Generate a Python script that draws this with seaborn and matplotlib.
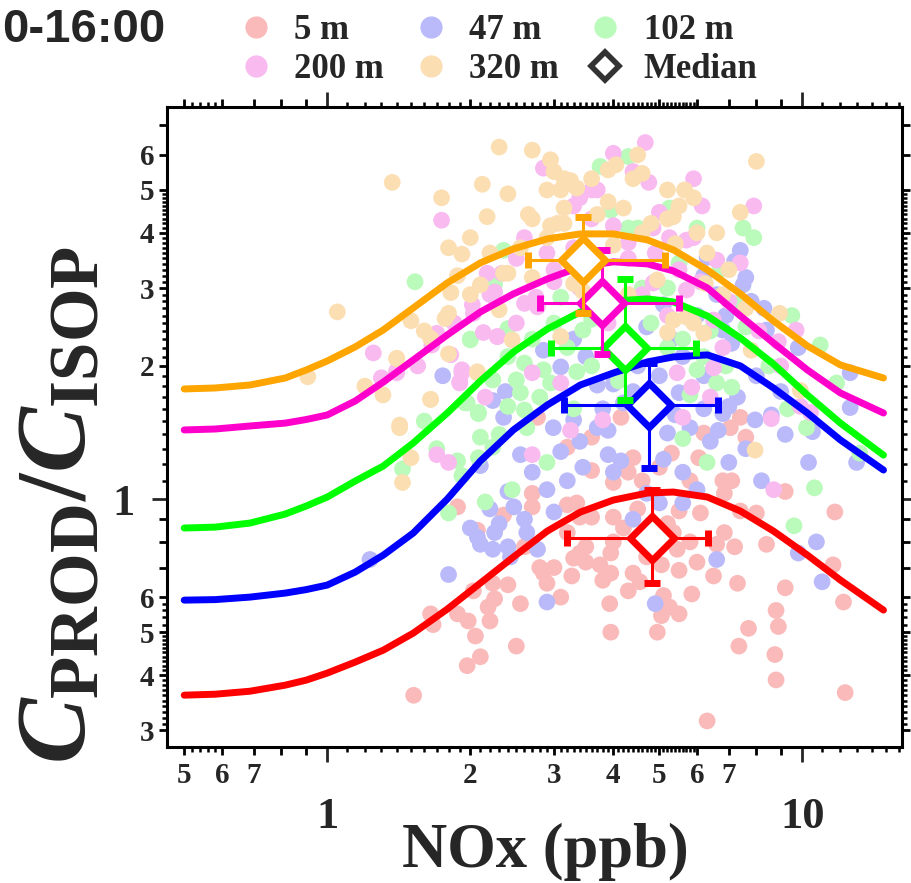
import numpy as np
import pandas as pd
import matplotlib
matplotlib.use("Agg")
import matplotlib.pyplot as plt
import seaborn as sns
from matplotlib.lines import Line2D
from matplotlib.ticker import FixedLocator, FixedFormatter, NullFormatter

# ---------------- data ----------------
heights = ["5 m", "47 m", "102 m", "200 m", "320 m"]
pale_colors = ["#FABABA", "#BABAFA", "#BAFABA", "#F9BAF0", "#FCDEB3"]
line_colors = ["#FF0000", "#0000FF", "#00FF00", "#FF00CC", "#FFA500"]

x_5m = [1.52, 1.97, 2.1, 2.05, 2.5, 1.65, 1.67, 1.88, 1.98, 2.2, 2.18, 2.25, 2.55, 2.03, 2.23, 2.85, 2.8, 2.9,
        3.0, 3.27, 3.3, 3.4, 3.5, 3.75, 3.8, 3.95, 3.95, 3.93, 3.95, 4.4, 4.55, 4.0, 3.5,
        5.05, 5.5, 5.85, 5.1, 5.25, 5.05, 5.5, 4.95, 6.5, 7.3, 9.2, 8.8, 7.7, 8.9, 7.35, 8.75, 8.8, 12.3,
        6.3, 12.2, 11.6, 8.4, 7.2, 6.6, 5.45,
        7.4, 7.05, 7.6, 6.2, 6.05, 5.3, 5.0, 4.6, 5.8, 6.8, 7.1, 6.85, 7.4, 8.0, 6.1, 5.5, 6.85, 9.2, 11.7, 5.35,
        2.7, 2.7, 2.35, 2.07, 3.2, 3.35, 3.4, 3.6, 4.0, 3.6, 4.0, 4.3, 4.4, 1.88, 3.6, 2.77, 3.2, 4.15,
        4.2, 4.5, 5.2, 5.8, 4.7, 3.2, 2.6, 6.0, 4.3, 3.1, 2.4]
y_5m = [0.36, 0.42, 0.44, 0.49, 0.465, 0.55, 0.52, 0.55, 0.53, 0.53, 0.57, 0.595, 0.58, 0.62, 0.645, 0.68, 0.70, 0.645,
        0.70, 0.67, 0.735, 0.755, 0.72, 0.71, 0.655, 0.68, 0.755, 0.58, 0.50, 0.68, 0.65, 0.80, 0.78,
        0.71, 0.69, 0.61, 0.605, 0.57, 0.545, 0.55, 0.50, 0.67, 0.645, 0.63, 0.56, 0.51, 0.515, 0.465, 0.445, 0.39, 0.365,
        0.315, 0.585, 0.71, 0.79, 0.78, 0.79, 0.77,
        1.53, 1.45, 1.38, 1.41, 1.24, 1.27, 1.18, 1.10, 1.10, 1.10, 1.10, 1.03, 0.94, 0.93, 0.93, 0.94, 0.84, 1.04, 0.935, 0.84,
        1.03, 0.96, 0.92, 0.85, 0.97, 0.98, 0.91, 0.91, 0.91, 1.16, 1.09, 1.15, 1.24, 0.96, 1.38, 1.53, 1.31, 1.53,
        0.86, 0.95, 0.88, 0.80, 0.74, 0.84, 0.78, 0.72, 0.62, 0.60, 0.64]

x_47m = [1.23, 1.8, 2.9, 4.9, 6.6, 11.0, 9.8, 10.7,
         1.75, 2.23, 2.37, 2.35, 2.55, 3.1, 2.1, 2.4, 2.47, 2.25, 2.07, 2.63, 2.77, 3.0, 2.85, 3.1, 2.99, 3.3,
         3.7, 3.9, 3.45, 3.9, 4.15, 4.0, 3.7, 4.0,
         7.5, 6.8, 4.7, 5.5, 5.8, 7.3, 7.0, 6.8, 5.8, 6.65, 7.95, 5.2, 5.1, 5.6, 7.0, 10.5, 10.3, 13.0, 12.6, 12.6,
         9.8, 8.4, 5.0, 4.7, 7.4, 7.6, 6.3, 7.2, 2.1, 2.23, 2.4, 2.43,
         4.5, 5.3, 6.0, 3.3, 4.2, 6.2, 5.6, 8.0, 9.0, 7.8, 6.6, 3.5,
         2.0, 2.3, 2.6, 2.2, 2.9, 3.2, 2.7, 3.4, 3.8, 4.4, 4.1, 5.0, 5.4, 6.2, 6.4, 7.6, 8.6, 9.2, 8.2, 6.0,
         5.6, 4.4, 6.9, 7.1, 8.3, 5.1, 4.9, 6.2]
y_47m = [0.73, 0.675, 0.585, 0.58, 0.73, 0.65, 0.755, 0.80,
         1.90, 1.67, 1.75, 1.53, 1.26, 1.28, 1.19, 1.04, 0.96, 0.84, 0.82, 0.84, 0.77, 0.935, 2.17, 1.99, 1.45, 1.51,
         1.45, 1.43, 1.18, 1.26, 1.22, 1.15, 1.81, 1.82,
         3.05, 2.41, 2.45, 1.74, 1.76, 1.70, 1.62, 1.56, 1.45, 1.43, 1.51, 1.41, 1.23, 1.15, 1.21, 1.42, 1.21, 1.21, 1.93, 1.61,
         2.2, 2.41, 0.98, 1.03, 3.65, 3.17, 3.52, 3.45, 0.79, 0.77, 0.78, 0.74,
         2.0, 2.3, 2.6, 2.3, 1.65, 1.9, 2.1, 1.9, 1.75, 2.8, 2.9, 2.1,
         0.86, 0.88, 0.90, 0.95, 1.05, 1.1, 1.15, 1.35, 1.6, 1.75, 2.1, 1.9, 1.55, 1.6, 1.35, 1.3, 1.55, 1.4, 1.1, 1.05,
         0.98, 0.9, 2.6, 2.25, 2.7, 2.75, 3.1, 3.2]

x_102m = [1.53, 2.35, 2.25, 2.0, 2.4, 1.97, 2.08, 2.23,
          2.0, 2.23, 2.5, 2.55, 2.4, 2.6, 1.95, 2.08, 2.1, 2.23, 2.08, 1.92, 1.88, 1.44, 2.15, 1.8, 2.9, 2.63, 2.95, 2.85,
          3.35, 2.6,
          6.0, 6.6, 7.1, 5.8, 5.6, 6.3, 10.6, 9.6, 10.9, 11.8, 13.2, 7.2,
          4.3, 3.75, 5.25, 6.0, 7.5, 7.9, 4.3, 4.5, 3.45, 3.1, 5.5, 6.7, 3.95,
          4.8, 5.2, 3.6, 4.1, 6.4, 5.0, 3.2,
          2.4, 2.7, 3.0, 3.6, 4.6, 5.2, 5.6, 6.2, 6.9, 7.6, 8.5, 9.3, 3.3, 2.8, 2.3, 1.7, 1.6, 2.45, 9.5, 10.2]
y_102m = [3.1, 3.65, 3.06, 2.3, 2.43, 1.65, 1.56, 1.86,
          2.29, 1.86, 1.86, 1.74, 1.62, 1.59, 1.65, 1.57, 1.38, 1.31, 1.24, 1.13, 1.22, 1.17, 0.985, 0.93, 1.21, 1.45, 1.83, 1.96,
          1.94, 2.03,
          1.96, 1.83, 1.79, 1.72, 1.37, 1.21, 1.06, 0.87, 2.23, 1.83, 1.27, 2.77,
          5.95, 5.65, 4.55, 4.1, 4.1, 3.9, 4.1, 4.1, 2.41, 2.86, 3.42, 3.3, 4.5,
          2.5, 2.2, 2.0, 1.85, 2.4, 1.6, 2.2,
          2.1, 2.3, 2.5, 2.55, 3.0, 3.0, 2.3, 2.1, 2.0, 2.45, 2.0, 1.6, 1.6, 1.7, 1.4, 1.3, 1.5, 1.05, 2.6, 1.45]

x_200m = [1.74, 1.25, 1.30, 1.40, 1.7, 1.66, 1.82, 1.92, 1.9, 2.02, 2.03, 2.13, 2.28, 2.17, 2.25, 2.33,
          4.67, 4.0, 2.85, 5.9, 4.75, 6.15, 7.9, 3.6, 3.7, 3.4, 4.85, 5.0, 4.0, 5.25, 5.7, 5.9, 6.6, 7.4,
          2.6, 2.9, 2.75, 2.6, 2.77, 5.7, 4.85, 6.5,
          8.6, 8.7, 9.9, 10.4, 5.85, 6.4, 5.6, 5.45, 6.5, 9.7, 8.9,
          1.7, 1.8, 2.7, 3.1, 3.25, 3.8, 1.92, 1.9, 2.7, 1.4, 2.28,
          3.3, 4.3, 3.9, 4.6, 3.0,
          2.2, 2.5, 3.0, 3.4, 3.6, 4.3, 4.9, 5.5, 6.1, 7.0, 8.1, 9.0, 4.4, 3.3, 2.5, 1.85, 1.55, 2.15, 5.2, 6.8]
y_200m = [4.27, 2.14, 1.88, 1.93, 2.37, 2.23, 2.12, 1.96, 1.84, 2.75, 2.63, 2.38, 2.33, 3.24, 2.94, 3.24,
          6.4, 6.05, 5.6, 5.3, 5.2, 4.6, 4.6, 5.0, 5.0, 4.8, 4.1, 4.45, 4.15, 3.9, 3.85, 3.9, 3.47, 3.42,
          3.9, 3.6, 2.86, 2.77, 2.72, 2.97, 3.08, 2.54,
          1.52, 1.05, 1.62, 1.57, 1.79, 1.70, 1.53, 1.93, 1.98, 2.41, 2.27,
          1.26, 1.21, 1.26, 1.83, 1.43, 1.51, 1.93, 1.83, 1.93, 1.95, 2.33,
          3.7, 3.5, 2.5, 2.9, 3.3,
          2.9, 2.5, 3.1, 3.0, 4.3, 3.8, 3.6, 3.3, 3.1, 2.8, 2.4, 2.0, 5.5, 4.6, 3.5, 2.5, 2.0, 1.7, 2.6, 2.2]

x_320m = [2.3, 1.37, 2.12, 1.74, 2.17, 1.8, 1.92, 1.88, 2.1, 1.82, 1.8, 1.77, 1.5, 1.05, 1.65, 1.4, 1.8, 0.91,
          1.31, 1.65, 1.42, 2.07, 2.3, 2.35,
          2.7, 2.95, 4.5, 3.9, 4.05, 4.6, 4.4, 5.2, 5.65, 5.9, 3.15, 3.25, 2.9, 3.1, 3.35, 4.2, 3.9, 3.15, 2.65,
          2.7, 2.95, 3.05, 3.15, 4.6, 5.2, 5.35, 6.6, 7.4, 8.0, 5.4, 2.4, 2.7, 3.3, 3.45, 4.95, 6.25, 5.35, 5.7,
          2.45, 3.1,
          8.95, 7.95, 5.2, 5.9, 6.2, 5.35, 7.8, 9.9,
          1.42, 1.5, 1.44, 1.65, 2.07, 1.4,
          2.0, 2.2, 2.55, 2.9, 3.7, 4.0, 4.8, 5.5, 6.0, 6.3, 7.0, 3.6, 3.0, 2.4, 2.0, 1.6, 1.2, 4.3, 6.8, 7.6]
y_320m = [6.25, 5.2, 5.15, 4.8, 4.35, 3.7, 3.58, 3.2, 3.05, 2.93, 2.63, 2.56, 2.53, 2.65, 2.31, 2.08, 2.13, 1.89,
          1.72, 1.68, 1.47, 1.94, 2.68, 3.24,
          6.15, 5.85, 6.0, 5.55, 5.7, 5.45, 5.3, 5.0, 5.0, 4.8, 5.3, 5.25, 5.0, 5.0, 5.05, 4.55, 4.7, 4.55, 4.4,
          4.3, 4.15, 4.2, 4.2, 4.0, 4.3, 4.35, 4.0, 4.45, 5.8, 3.78, 3.24, 3.17, 3.07, 2.95, 3.13, 3.07, 2.54, 2.58,
          2.29, 2.33,
          2.63, 1.29, 2.38, 2.5, 2.37, 2.54, 2.17, 1.76,
          1.45, 1.24, 1.09, 1.68, 1.93, 2.08,
          3.9, 3.6, 3.7, 3.9, 4.4, 3.75, 4.2, 4.6, 4.0, 3.6, 3.3, 5.3, 5.5, 4.9, 2.9, 2.4, 1.8, 2.9, 2.9, 2.7]

# fitted curves at common NOx positions
curve_x = [0.5, 0.581, 0.688, 0.816, 0.903, 1.0, 1.145, 1.312, 1.517, 1.789, 2.1, 2.464, 2.905, 3.409, 4.001,
           4.717, 5.351, 6.31, 7.405, 8.689, 10.245, 12.02, 14.81]
curve_5m = [0.3602, 0.3620, 0.3677, 0.3795, 0.3895, 0.4041, 0.4279, 0.4553, 0.4975, 0.5638, 0.6456, 0.7393, 0.8465,
            0.9345, 0.9948, 1.0317, 1.0371, 1.0105, 0.9394, 0.8465, 0.7468, 0.6558, 0.5609]
curve_47m = [0.5908, 0.5924, 0.6002, 0.6129, 0.6241, 0.6390, 0.6836, 0.7468, 0.8378, 1.0, 1.219, 1.433, 1.632,
             1.811, 1.928, 2.042, 2.096, 2.118, 2.000, 1.783, 1.565, 1.360, 1.163]
curve_102m = [0.860, 0.864, 0.8825, 0.9249, 0.9642, 1.0105, 1.0982, 1.1877, 1.339, 1.565, 1.849, 2.150, 2.424,
              2.649, 2.805, 2.835, 2.791, 2.594, 2.313, 2.020, 1.719, 1.485, 1.257]
curve_200m = [1.433, 1.440, 1.463, 1.485, 1.513, 1.549, 1.666, 1.839, 2.063, 2.350, 2.649, 2.910, 3.146,
              3.349, 3.438, 3.402, 3.280, 3.002, 2.594, 2.254, 1.958, 1.737, 1.565]
curve_320m = [1.774, 1.783, 1.811, 1.878, 1.958, 2.052, 2.208, 2.412, 2.705, 3.082, 3.420, 3.679, 3.875,
              3.977, 3.977, 3.855, 3.659, 3.297, 2.910, 2.527, 2.219, 2.010, 1.878]

# medians with error bar ends
med_x = [4.83, 4.76, 4.24, 3.79, 3.46]
med_y = [0.816, 1.632, 2.195, 2.78, 3.47]
med_x_lo = [3.2, 3.155, 2.96, 2.81, 2.65]
med_x_hi = [6.34, 6.65, 5.98, 5.51, 5.15]
med_y_lo = [0.645, 1.175, 1.675, 2.13, 2.64]
med_y_hi = [1.05, 2.03, 3.15, 3.66, 4.35]

# axis ticks
x_major = [0.5, 0.6, 0.7, 0.8, 0.9, 2, 3, 4, 5, 6, 7, 8, 9]
x_major_labels = ["5", "6", "7", "", "", "2", "3", "4", "5", "6", "7", "", ""]
x_minor = [0.52, 0.54, 0.56, 0.58] + [v / 10 for v in range(11, 60) if v % 10 != 0] + [11, 12, 13, 14, 15, 16]
x_big = [1, 10]
x_big_labels = ["1", "10"]
y_major = [0.3, 0.4, 0.5, 0.6, 0.7, 0.8, 0.9, 2, 3, 4, 5, 6, 7]
y_major_labels = ["3", "4", "5", "6", "", "", "", "2", "3", "4", "5", "6", ""]
y_minor = [v / 100 for v in range(31, 50) if v != 40] + [0.52, 0.54, 0.56, 0.58] + [v / 10 for v in range(11, 50) if v % 10 != 0]
y_big = [1]
y_big_labels = ["1"]

# ---------------- style ----------------
sns.set_theme(style="ticks")
plt.rcParams["font.family"] = ["Liberation Serif", "DejaVu Serif"]
plt.rcParams["font.weight"] = "bold"
plt.rcParams["axes.labelweight"] = "bold"
plt.rcParams["mathtext.fontset"] = "custom"
plt.rcParams["mathtext.rm"] = "Liberation Serif:bold"
plt.rcParams["mathtext.it"] = "Liberation Serif:bold:italic"
plt.rcParams["mathtext.bf"] = "Liberation Serif:bold"

fig = plt.figure(figsize=(9.12, 8.83), dpi=100)
ax = fig.add_axes([167 / 912, 1 - 747 / 883, (902 - 167) / 912, (747 - 107) / 883])
ax.set_xscale("log")
ax.set_yscale("log")

frames = []
for name, xs, ys in zip(heights, [x_5m, x_47m, x_102m, x_200m, x_320m], [y_5m, y_47m, y_102m, y_200m, y_320m]):
    frames.append(pd.DataFrame({"NOx": xs, "ratio": ys, "height": name}))
df = pd.concat(frames, ignore_index=True)

sns.scatterplot(data=df, x="NOx", y="ratio", hue="height", palette=dict(zip(heights, pale_colors)),
                s=145, linewidth=0, alpha=1, legend=False, ax=ax, zorder=1)

for cy, col in zip([curve_5m, curve_47m, curve_102m, curve_200m, curve_320m], line_colors):
    sns.lineplot(x=curve_x, y=cy, color=col, linewidth=5, estimator=None, ax=ax, zorder=3)

for i, col in enumerate(line_colors):
    xe = [[med_x[i] - med_x_lo[i]], [med_x_hi[i] - med_x[i]]]
    ye = [[med_y[i] - med_y_lo[i]], [med_y_hi[i] - med_y[i]]]
    ax.errorbar([med_x[i]], [med_y[i]], xerr=xe, yerr=ye, fmt="D", ms=22, mfc="white", mec=col, mew=5,
                ecolor=col, elinewidth=2.2, capsize=6, capthick=2.2, zorder=5 + i)

ax.set_xlim(0.46, 16.2)
ax.set_ylim(0.275, 7.7)
ax.set_xlabel("")
ax.set_ylabel("")

for s in ax.spines.values():
    s.set_visible(True)
    s.set_linewidth(2.2)
    s.set_color("black")

ax.xaxis.set_major_locator(FixedLocator(x_major))
ax.xaxis.set_major_formatter(FixedFormatter(x_major_labels))
ax.xaxis.set_minor_locator(FixedLocator(x_minor))
ax.xaxis.set_minor_formatter(NullFormatter())
ax.yaxis.set_major_locator(FixedLocator(y_major))
ax.yaxis.set_major_formatter(FixedFormatter(y_major_labels))
ax.yaxis.set_minor_locator(FixedLocator(y_minor))
ax.yaxis.set_minor_formatter(NullFormatter())
ax.tick_params(which="both", direction="out", top=True, right=True, labeltop=False, labelright=False, color="black")
ax.tick_params(which="major", length=6, width=2, labelsize=21, pad=5)
ax.tick_params(axis="y", which="major", pad=3)
ax.tick_params(which="minor", length=3.5, width=1.8)

# long ticks at decades
for loc in ["bottom", "top"]:
    sx = ax.secondary_xaxis(loc)
    sx.set_xticks(x_big)
    sx.set_xticklabels(x_big_labels if loc == "bottom" else ["", ""])
    sx.tick_params(axis="x", which="major", length=11, width=2, labelsize=32, pad=25, direction="out")
    sx.tick_params(axis="x", which="minor", length=0, labelbottom=False, labeltop=False)
    for s in sx.spines.values():
        s.set_visible(False)
for loc in ["left", "right"]:
    sy = ax.secondary_yaxis(loc)
    sy.set_yticks(y_big)
    sy.set_yticklabels(y_big_labels if loc == "left" else [""])
    sy.tick_params(axis="y", which="major", length=11, width=2, labelsize=32, pad=12, direction="out")
    sy.tick_params(axis="y", which="minor", length=0, labelleft=False, labelright=False)
    for s in sy.spines.values():
        s.set_visible(False)

fig.text(545 / 912, 1 - 852 / 883, "NOx (ppb)", ha="center", va="center", fontsize=45, fontweight="bold")
fig.text(61 / 912, 1 - 505 / 883, r"$C_{\mathrm{PROD}}/C_{\mathrm{ISOP}}$", ha="center", va="center",
         rotation=90, fontsize=71)

fig.text(2 / 912, 1 - 30 / 883, "0-16:00", ha="left", va="center", fontsize=34, fontweight="bold",
         family=["Liberation Sans", "DejaVu Sans"])

handles = [Line2D([], [], ls="none", marker="o", ms=16, mfc=c, mec="none") for c in pale_colors]
handles.append(Line2D([], [], ls="none", marker="D", ms=14, mfc="white", mec="#333333", mew=4))
labels = heights + ["Median"]
order = [0, 3, 1, 4, 2, 5]
fig.legend([handles[i] for i in order], [labels[i] for i in order], ncol=3, loc="upper left",
           bbox_to_anchor=(235 / 912, 0.988), frameon=False,
           prop={"family": "Liberation Serif", "weight": "bold", "size": 25},
           handlelength=1.0, handletextpad=0.6, columnspacing=0.85, labelspacing=0.18,
           borderpad=0.1, borderaxespad=0)

fig.savefig("out.png", dpi=100)
